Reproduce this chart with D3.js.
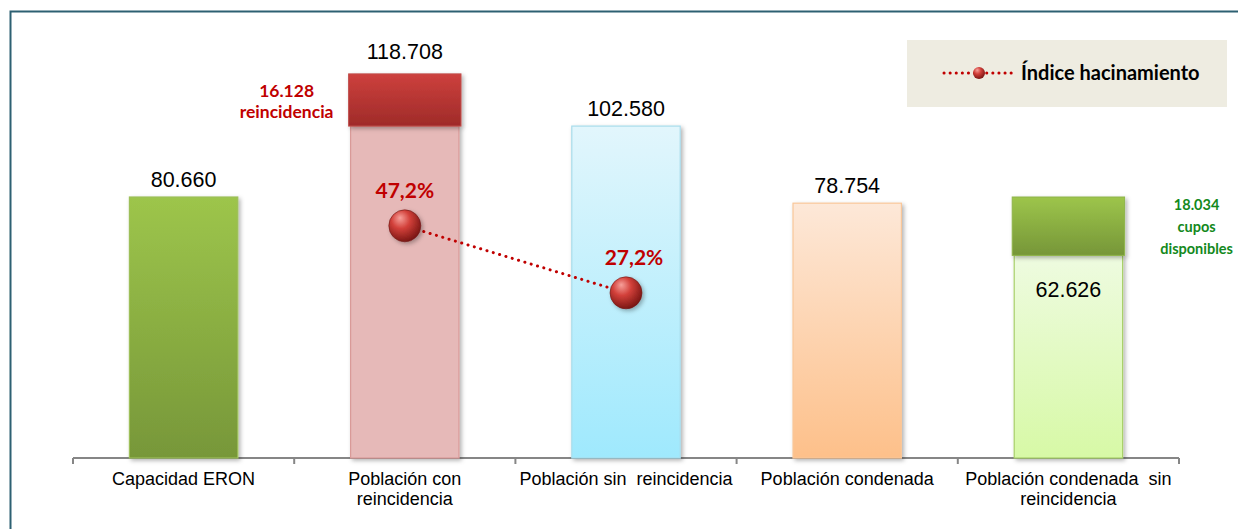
<!DOCTYPE html>
<html>
<head>
<meta charset="utf-8">
<script src="https://cdn.jsdelivr.net/npm/d3@7"></script>
<style>
  body { margin: 0; background: #fff; }
  svg { display: block; }
  text { white-space: pre; }
</style>
</head>
<body>
<svg id="chart" width="1238" height="529"></svg>
<script>
"use strict";
// data
var categories = ["Capacidad ERON", "Población con\nreincidencia", "Población sin  reincidencia",
                  "Población condenada", "Población condenada  sin\nreincidencia"];
var baseValues = [80660, 102580, 102580, 78754, 62626];
var topValues = [0, 16128, 0, 0, 18034];
var indiceValues = [null, 0.472, 0.272, null, null];
var topNotes = ["", "16.128\nreincidencia", "", "", "18.034\ncupos\ndisponibles"];

var width = 1238, height = 529;
var svg = d3.select("#chart");
var defs = svg.append("defs");

var loc = d3.formatLocale({decimal: ",", thousands: ".", grouping: [3], currency: ["", ""]});
var fmtNum = loc.format(",d");
var fmtPct = loc.format(".1%");

// gradients for bars
var grads = [
  {id: "gGreen", top: "#9dc54b", bottom: "#779739"},
  {id: "gPink", top: "#e6b9b8", bottom: "#e6b9b8"},
  {id: "gBlue", top: "#e2f6fc", bottom: "#9fe9fd"},
  {id: "gPeach", top: "#fde8d8", bottom: "#fdc08a"},
  {id: "gLime", top: "#eefbe0", bottom: "#d7f9a6"},
  {id: "gRed", top: "#cd403d", bottom: "#9f2b29"},
  {id: "gDkGreen", top: "#9dc54b", bottom: "#769638"}
];
grads.forEach(function(g) {
  var lg = defs.append("linearGradient").attr("id", g.id)
    .attr("x1", 0).attr("y1", 0).attr("x2", 0).attr("y2", 1);
  lg.append("stop").attr("offset", "0%").attr("stop-color", g.top);
  lg.append("stop").attr("offset", "100%").attr("stop-color", g.bottom);
});
var barFill = ["gGreen", "gPink", "gBlue", "gPeach", "gLime"];
var barStroke = ["#9dbf5a", "#d99a98", "#a9dcec", "#f9c79a", "#a9d16a"];
var topFill = [null, "gRed", null, null, "gDkGreen"];

// sphere gradient
var rg = defs.append("radialGradient").attr("id", "sphere")
  .attr("cx", "40%").attr("cy", "35%").attr("r", "65%").attr("fx", "35%").attr("fy", "25%");
rg.append("stop").attr("offset", "0%").attr("stop-color", "#f7a09a");
rg.append("stop").attr("offset", "45%").attr("stop-color", "#d2403a");
rg.append("stop").attr("offset", "100%").attr("stop-color", "#7c1714");

var shadow = defs.append("filter").attr("id", "shadow")
  .attr("x", "-20%").attr("y", "-20%").attr("width", "150%").attr("height", "150%");
shadow.append("feDropShadow").attr("dx", 2).attr("dy", 2).attr("stdDeviation", 2)
  .attr("flood-color", "#000").attr("flood-opacity", 0.3);

// frame (only top and left edges are visible)
svg.append("path")
  .attr("d", "M10.5," + (height + 5) + "V11.5H" + (width + 5))
  .attr("fill", "none").attr("stroke", "#2d6072").attr("stroke-width", 2);

// scales
var x = d3.scaleBand().domain(d3.range(categories.length))
  .range([73, 1179]).paddingInner(0.51).paddingOuter(0.255);
var y = d3.scaleLinear().domain([0, 140000]).range([458, 5]);
var y2 = d3.scaleLinear().domain([-0.221, 1.131]).range([458, 5]);

// axis
var xAxis = d3.axisBottom(x).tickSize(0).tickFormat("");
var ax = svg.append("g").attr("transform", "translate(0,458)").call(xAxis);
ax.select(".domain").attr("stroke", "#868686").attr("stroke-width", 2).attr("d", "M73,0H1179");
var step = x.step();
var bounds = d3.range(categories.length + 1).map(function(i) { return 73 + i * step; });
ax.selectAll(".sep").data(bounds).enter().append("line")
  .attr("x1", function(d) { return d; }).attr("x2", function(d) { return d; })
  .attr("y1", 0).attr("y2", 6).attr("stroke", "#868686").attr("stroke-width", 2);

// category labels
var catG = svg.append("g");
categories.forEach(function(c, i) {
  var t = catG.append("text")
    .attr("x", x(i) + x.bandwidth() / 2).attr("y", 485)
    .attr("text-anchor", "middle")
    .attr("font-family", "Liberation Sans, Arial, sans-serif")
    .attr("font-size", 18).attr("fill", "#000");
  c.split("\n").forEach(function(line, k) {
    t.append("tspan").attr("x", x(i) + x.bandwidth() / 2).attr("dy", k ? 20 : 0).text(line);
  });
});

// bars
var bars = svg.append("g");
bars.selectAll("rect.base").data(baseValues).enter().append("rect")
  .attr("class", "base")
  .attr("x", function(d, i) { return x(i); })
  .attr("y", function(d) { return y(d); })
  .attr("width", x.bandwidth())
  .attr("height", function(d) { return y(0) - y(d); })
  .attr("fill", function(d, i) { return "url(#" + barFill[i] + ")"; })
  .attr("stroke", function(d, i) { return barStroke[i]; })
  .attr("stroke-width", 1.2)
  .attr("filter", "url(#shadow)");

bars.selectAll("rect.top").data(topValues.map(function(v, i) { return {v: v, i: i}; })
    .filter(function(d) { return d.v > 0; }))
  .enter().append("rect")
  .attr("class", "top")
  .attr("x", function(d) { return x(d.i) - 2; })
  .attr("y", function(d) { return y(baseValues[d.i] + d.v); })
  .attr("width", x.bandwidth() + 4)
  .attr("height", function(d) { return y(baseValues[d.i]) - y(baseValues[d.i] + d.v); })
  .attr("fill", function(d) { return "url(#" + topFill[d.i] + ")"; })
  .attr("stroke", function(d) { return d.i === 1 ? "#c0504d" : "#8fb54a"; })
  .attr("stroke-width", 1)
  .attr("filter", "url(#shadow)");

// value labels
baseValues.forEach(function(v, i) {
  var total = v + topValues[i];
  var inside = i === 4;
  svg.append("text")
    .attr("x", x(i) + x.bandwidth() / 2)
    .attr("y", inside ? y(v) + 42 : y(total) - (topValues[i] ? 15 : 10))
    .attr("text-anchor", "middle")
    .attr("font-family", "Liberation Sans, Arial, sans-serif")
    .attr("font-size", 21.5).attr("fill", "#000")
    .text(fmtNum(inside ? v : total));
});

// side notes
topNotes.forEach(function(n, i) {
  if (!n) return;
  var red = i === 1;
  var cx = red ? x(i) - 64 : x(i) + x.bandwidth() + 74;
  var y0 = red ? y(baseValues[i] + topValues[i]) + 23 : y(baseValues[i] + topValues[i]) + 13;
  var t = svg.append("text")
    .attr("x", cx).attr("y", y0).attr("text-anchor", "middle")
    .attr("font-family", "Lato, Open Sans, sans-serif").attr("font-weight", "bold")
    .attr("font-size", red ? 17.5 : 14.5).attr("fill", red ? "#c00000" : "#13891c");
  n.split("\n").forEach(function(line, k) {
    t.append("tspan").attr("x", cx).attr("dy", k ? (red ? 21 : 22) : 0).text(line);
  });
});

// indice line
var pts = indiceValues.map(function(v, i) { return {v: v, i: i}; })
  .filter(function(d) { return d.v !== null; });
var line = d3.line()
  .x(function(d) { return x(d.i) + x.bandwidth() / 2; })
  .y(function(d) { return y2(d.v); });
svg.append("path").datum(pts).attr("d", line)
  .attr("fill", "none").attr("stroke", "#c00000").attr("stroke-width", 3)
  .attr("stroke-dasharray", "0.1 6.5").attr("stroke-linecap", "round");
svg.selectAll("circle.pt").data(pts).enter().append("circle")
  .attr("class", "pt")
  .attr("cx", function(d) { return x(d.i) + x.bandwidth() / 2; })
  .attr("cy", function(d) { return y2(d.v); })
  .attr("r", 16)
  .attr("fill", "url(#sphere)")
  .attr("stroke", "#6e1b18").attr("stroke-width", 0.6)
  .attr("filter", "url(#shadow)");
svg.selectAll("text.pct").data(pts).enter().append("text")
  .attr("class", "pct")
  .attr("x", function(d) { return x(d.i) + x.bandwidth() / 2 + (d.i === 2 ? 8 : 0); })
  .attr("y", function(d) { return y2(d.v) - 28; })
  .attr("text-anchor", "middle")
  .attr("font-family", "Lato, Open Sans, sans-serif").attr("font-weight", "bold")
  .attr("font-size", 21).attr("fill", "#c00000")
  .text(function(d) { return fmtPct(d.v); });

// legend
var lg = svg.append("g").attr("transform", "translate(907,40)");
lg.append("rect").attr("width", 320).attr("height", 67).attr("fill", "#eeece1");
lg.append("line").attr("x1", 37).attr("x2", 106).attr("y1", 33).attr("y2", 33)
  .attr("stroke", "#c00000").attr("stroke-width", 3)
  .attr("stroke-dasharray", "0.1 6").attr("stroke-linecap", "round");
lg.append("circle").attr("cx", 72).attr("cy", 33).attr("r", 6).attr("fill", "url(#sphere)");
lg.append("text").attr("x", 114).attr("y", 40)
  .attr("font-family", "Lato, Open Sans, sans-serif").attr("font-weight", "bold")
  .attr("font-size", 20).attr("fill", "#000").text("Índice hacinamiento");
</script>
</body>
</html>
